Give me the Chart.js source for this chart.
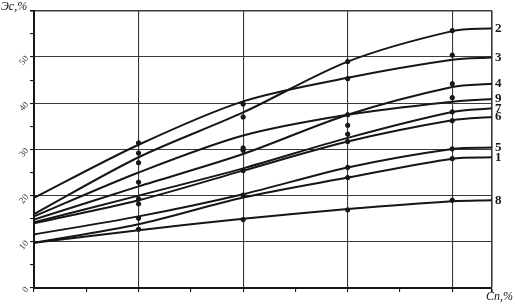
<!DOCTYPE html>
<html>
<head>
<meta charset="utf-8">
<script src="https://cdn.jsdelivr.net/npm/chart.js@4.4.0/dist/chart.umd.min.js"></script>
<style>
  html, body { margin: 0; padding: 0; background: #fff; }
  #wrap { width: 515px; height: 304px; }
</style>
</head>
<body>
<div id="wrap"><canvas id="chart"></canvas></div>
<script>
// Сп,% positions of the readings (last one = right frame)
const xValues = [0, 1, 2, 3, 4, 4.38];

// Эс,% for each numbered curve
const curve2 = [16.0, 28.3, 38.0, 49.0, 55.6, 56.2];
const curve3 = [19.5, 31.0, 40.4, 45.5, 49.4, 49.9];
const curve4 = [14.8, 22.0, 29.0, 37.5, 43.5, 44.2];
const curve9 = [15.5, 25.0, 33.0, 37.5, 40.3, 40.9];
const curve7 = [14.2, 20.0, 25.9, 32.5, 38.1, 38.9];
const curve6 = [14.0, 19.0, 25.4, 31.7, 36.3, 37.0];
const curve5 = [11.6, 15.5, 20.3, 26.1, 30.1, 30.4];
const curve1 = [9.8, 13.8, 19.6, 23.9, 28.0, 28.3];
const curve8 = [9.8, 12.5, 15.0, 17.1, 18.8, 19.0];

const curveNames = ['2', '3', '4', '9', '7', '6', '5', '1', '8'];
const curveSeries = [curve2, curve3, curve4, curve9, curve7, curve6, curve5, curve1, curve8];

// measured points (dots on the verticals)
const measuredX = [1, 1, 1, 1, 1, 1, 1, 1,
                   2, 2, 2, 2, 2, 2, 2,
                   3, 3, 3, 3, 3, 3, 3, 3, 3,
                   4, 4, 4, 4, 4, 4, 4, 4, 4];
const measuredY = [31.4, 29.2, 27.1, 22.9, 19.3, 18.2, 15.1, 12.7,
                   39.8, 37.0, 30.3, 29.8, 25.4, 20.1, 14.8,
                   49.0, 45.3, 37.5, 35.2, 33.3, 31.7, 26.1, 23.9, 16.9,
                   55.7, 50.4, 44.2, 41.2, 38.1, 36.2, 30.1, 28.0, 19.0];

const yTickValues = [0, 5, 10, 15, 20, 25, 30, 35, 40, 45, 50, 55, 60];
const xTickValues = [0, 0.5, 1, 1.5, 2, 2.5, 3, 3.5, 4, 4.38];

const ink = '#161616';

// curve datasets------
const datasets = curveSeries.map(function (vals, i) {
  return {
    label: curveNames[i],
    data: vals.map(function (v, j) { return { x: xValues[j], y: v }; }),
    borderColor: ink,
    borderWidth: 2,
    pointRadius: 0,
    fill: false,
    tension: 0.3
  };
});

datasets.push({
  label: 'points',
  type: 'scatter',
  data: measuredX.map(function (x, i) { return { x: x, y: measuredY[i] }; }),
  backgroundColor: ink,
  borderColor: ink,
  pointRadius: 2.2,
  showLine: false
});

// axis names (Эс,% and Сп,%)
const axisNames = {
  id: 'axisNames',
  afterDraw: function (chart) {
    const c = chart.ctx;
    const area = chart.chartArea;
    c.save();
    c.fillStyle = ink;
    c.font = 'italic 12px "Liberation Serif"';
    c.textBaseline = 'top';
    c.textAlign = 'left';
    c.fillText('Эс,%', 1, 1);
    c.textAlign = 'right';
    c.fillText('Сп,%', chart.width - 2, area.bottom + 3);
    c.restore();
  }
};

new Chart(document.getElementById('chart'), {
  type: 'line',
  data: { datasets: datasets },
  plugins: [axisNames],
  options: {
    responsive: true,
    maintainAspectRatio: false,
    animation: false,
    layout: { padding: { top: 4, left: 0, right: 0, bottom: 0 } },
    plugins: { legend: { display: false }, tooltip: { enabled: false } },
    scales: {
      x: {
        type: 'linear',
        min: 0,
        max: 4.38,
        afterBuildTicks: function (s) { s.ticks = xTickValues.map(function (v) { return { value: v }; }); },
        afterFit: function (s) { s.height = 16; },
        ticks: { display: false },
        grid: {
          color: function (ctx) {
            const v = ctx.tick ? ctx.tick.value : 0;
            return (Number.isInteger(v) || v > 4.3) ? '#3a3a3a' : 'rgba(0,0,0,0)';
          },
          lineWidth: function (ctx) { return ctx.tick && ctx.tick.value > 4.3 ? 1.6 : 1.1; },
          tickColor: ink,
          tickLength: 4
        },
        border: { color: ink, width: 2 }
      },
      y: {
        type: 'linear',
        position: 'left',
        min: 0,
        max: 60,
        afterBuildTicks: function (s) { s.ticks = yTickValues.map(function (v) { return { value: v }; }); },
        afterFit: function (s) { s.width = 34; },
        ticks: {
          autoSkip: false,
          minRotation: 50,
          maxRotation: 50,
          padding: 3,
          color: '#333',
          font: { family: 'Liberation Serif', size: 9 },
          callback: function (v) { return (v % 10 === 0 && v < 60) ? String(v) : ''; }
        },
        grid: {
          color: function (ctx) {
            const v = ctx.tick ? ctx.tick.value : 0;
            return v % 10 === 0 ? '#3a3a3a' : 'rgba(0,0,0,0)';
          },
          lineWidth: function (ctx) { return ctx.tick && ctx.tick.value === 60 ? 1.6 : 1.1; },
          tickColor: ink,
          tickLength: 4
        },
        border: { color: ink, width: 2 }
      },
      yRight: {
        type: 'linear',
        position: 'right',
        min: 0,
        max: 60,
        afterBuildTicks: function (s) {
          s.ticks = curveSeries.map(function (vals) { return { value: vals[vals.length - 1] }; });
        },
        afterFit: function (s) { s.width = 23; },
        ticks: {
          autoSkip: false,
          padding: 3,
          color: ink,
          font: { family: 'Liberation Serif', size: 13, weight: 'bold' },
          callback: function (v, i) { return curveNames[i]; }
        },
        grid: { display: false, drawTicks: false },
        border: { display: false }
      }
    }
  }
});
</script>
</body>
</html>
